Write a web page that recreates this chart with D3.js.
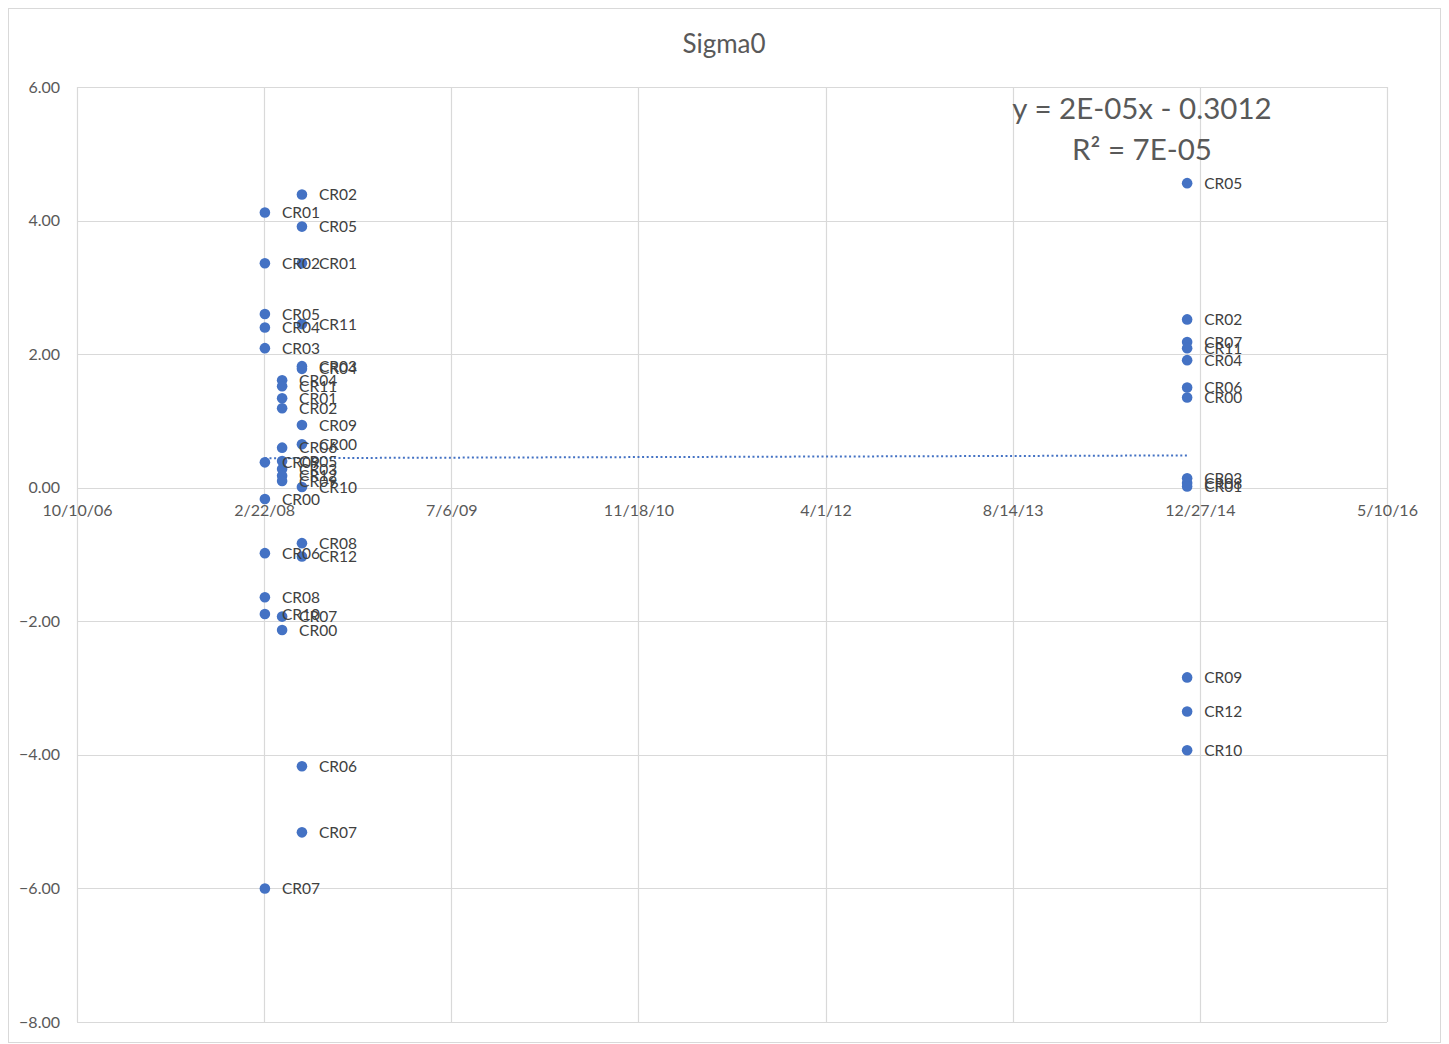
<!DOCTYPE html>
<html>
<head>
<meta charset="utf-8">
<script src="https://cdn.jsdelivr.net/npm/d3@7"></script>
<style>
  body { margin: 0; background: #fff; }
  svg text { font-family: Lato, "Open Sans", sans-serif; }
</style>
</head>
<body>
<svg id="chart" width="1449" height="1044"></svg>
<script>
// Sampling dates (one per survey campaign)
const campaignDates = ["2008-02-24", "2008-04-10", "2008-06-02", "2014-11-23"];

// Station names, Sigma0 values and campaign index for every observation
const stationLabels = [
  "CR01", "CR02", "CR05", "CR04", "CR03", "CR09", "CR00", "CR06", "CR08", "CR10", "CR07",
  "CR04", "CR11", "CR01", "CR02", "CR06", "CR05", "CR03", "CR12", "CR09", "CR07", "CR00",
  "CR02", "CR05", "CR01", "CR11", "CR03", "CR04", "CR09", "CR00", "CR10", "CR08", "CR12", "CR06", "CR07",
  "CR05", "CR02", "CR07", "CR11", "CR04", "CR06", "CR00", "CR03", "CR08", "CR01", "CR09", "CR12", "CR10"
];
const sigmaValues = [
  4.12, 3.36, 2.60, 2.40, 2.09, 0.38, -0.17, -0.98, -1.64, -1.89, -6.00,
  1.61, 1.52, 1.34, 1.19, 0.60, 0.40, 0.28, 0.18, 0.10, -1.93, -2.13,
  4.39, 3.91, 3.36, 2.45, 1.82, 1.78, 0.94, 0.65, 0.01, -0.83, -1.03, -4.17, -5.16,
  4.56, 2.52, 2.18, 2.09, 1.91, 1.50, 1.35, 0.14, 0.07, 0.02, -2.84, -3.35, -3.93
];
const campaignIndex = [
  0, 0, 0, 0, 0, 0, 0, 0, 0, 0, 0,
  1, 1, 1, 1, 1, 1, 1, 1, 1, 1, 1,
  2, 2, 2, 2, 2, 2, 2, 2, 2, 2, 2, 2, 2,
  3, 3, 3, 3, 3, 3, 3, 3, 3, 3, 3, 3, 3
];

// Axis ticks
const xTickLabels = ["10/10/06", "2/22/08", "7/6/09", "11/18/10", "4/1/12", "8/14/13", "12/27/14", "5/10/16"];
const yTickValues = [-8, -6, -4, -2, 0, 2, 4, 6];

const chartTitle = "Sigma0";
const trendEquation = "y = 2E-05x - 0.3012";
const trendR2 = "R² = 7E-05";

const svg = d3.select("#chart");
const W = 1449, H = 1044;
const plot = { left: 77, right: 1387, top: 87, bottom: 1022 };

const parseTick = d3.timeParse("%m/%d/%y");
const parseDate = d3.timeParse("%Y-%m-%d");
const xTicks = xTickLabels.map(parseTick);

const x = d3.scaleTime()
  .domain([xTicks[0], xTicks[xTicks.length - 1]])
  .range([plot.left, plot.right]);
const y = d3.scaleLinear()
  .domain([d3.min(yTickValues), d3.max(yTickValues)])
  .range([plot.bottom, plot.top]);

const points = sigmaValues.map((v, i) => ({
  date: parseDate(campaignDates[campaignIndex[i]]),
  value: v,
  label: stationLabels[i]
}));

// Outer chart frame
svg.append("rect")
  .attr("x", 8.5).attr("y", 8.5)
  .attr("width", W - 17).attr("height", H - 10)
  .attr("fill", "#fff")
  .attr("stroke", "#d9d9d9").attr("stroke-width", 1);

// Title
svg.append("text")
  .attr("x", 724).attr("y", 53)
  .attr("text-anchor", "middle")
  .attr("font-size", 26)
  .attr("fill", "#595959")
  .text(chartTitle);

// Gridlines
const grid = svg.append("g").attr("stroke", "#d9d9d9").attr("stroke-width", 1.2);
grid.selectAll("line.h").data(yTickValues).join("line")
  .attr("class", "h")
  .attr("x1", plot.left).attr("x2", plot.right)
  .attr("y1", d => Math.round(y(d)) + 0.5).attr("y2", d => Math.round(y(d)) + 0.5);
grid.selectAll("line.v").data(xTicks).join("line")
  .attr("class", "v")
  .attr("x1", d => Math.round(x(d)) + 0.5).attr("x2", d => Math.round(x(d)) + 0.5)
  .attr("y1", plot.top).attr("y2", plot.bottom);

// Y axis labels
const yAxis = d3.axisLeft(y).tickValues(yTickValues).tickFormat(d3.format(".2f")).tickSize(0).tickPadding(17);
svg.append("g")
  .attr("transform", `translate(${plot.left},0)`)
  .call(yAxis)
  .call(g => g.select(".domain").remove())
  .call(g => g.selectAll("text").attr("font-size", 16).attr("fill", "#595959").attr("font-family", "Lato, sans-serif"));

// X axis labels sit on the zero line
const xAxis = d3.axisBottom(x).tickValues(xTicks).tickFormat((d, i) => xTickLabels[i]).tickSize(0).tickPadding(17);
svg.append("g")
  .attr("transform", `translate(0,${y(0)})`)
  .call(xAxis)
  .call(g => g.select(".domain").remove())
  .call(g => g.selectAll("text").attr("font-size", 16).attr("fill", "#595959").attr("font-family", "Lato, sans-serif"));

// Linear trendline (least squares on day number)
const dayMs = 86400000;
const xs = points.map(p => p.date.getTime() / dayMs);
const ys = points.map(p => p.value);
const mx = d3.mean(xs), my = d3.mean(ys);
const slope = d3.sum(xs, (xi, i) => (xi - mx) * (ys[i] - my)) / d3.sum(xs, xi => (xi - mx) * (xi - mx));
const intercept = my - slope * mx;
const [d0, d1] = d3.extent(points, p => p.date);
const trend = [d0, d1].map(d => ({ date: d, value: intercept + slope * d.getTime() / dayMs }));
svg.append("path")
  .datum(trend)
  .attr("d", d3.line().x(d => x(d.date)).y(d => y(d.value)))
  .attr("fill", "none")
  .attr("stroke", "#4472C4")
  .attr("stroke-width", 2)
  .attr("stroke-dasharray", "2,2.6");

// Points
svg.append("g").selectAll("circle").data(points).join("circle")
  .attr("cx", d => x(d.date))
  .attr("cy", d => y(d.value))
  .attr("r", 5.3)
  .attr("fill", "#4472C4");

// Point labels
svg.append("g").selectAll("text").data(points).join("text")
  .attr("x", d => x(d.date) + 17)
  .attr("y", d => y(d.value))
  .attr("dy", "0.36em")
  .attr("font-size", 15.5)
  .attr("fill", "#404040")
  .text(d => d.label);

// Trendline equation
svg.append("text")
  .attr("x", 1142).attr("y", 119)
  .attr("text-anchor", "middle")
  .attr("font-size", 29.5)
  .attr("fill", "#595959")
  .text(trendEquation);
svg.append("text")
  .attr("x", 1142).attr("y", 160)
  .attr("text-anchor", "middle")
  .attr("font-size", 29.5)
  .attr("fill", "#595959")
  .text(trendR2);
</script>
</body>
</html>
